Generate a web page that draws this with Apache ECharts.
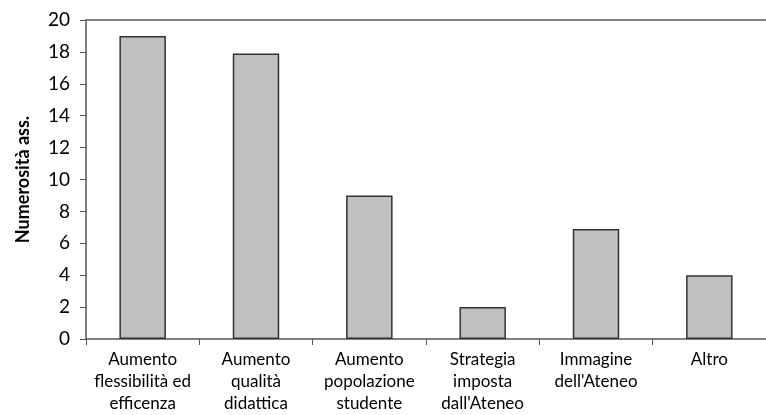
<!DOCTYPE html>
<html>
<head>
<meta charset="utf-8">
<script src="https://cdn.jsdelivr.net/npm/echarts@6/dist/echarts.min.js"></script>
<style>
  html, body { margin: 0; padding: 0; background: #fff; }
  #chart { width: 766px; height: 415px; }
</style>
</head>
<body>
<div id="chart"></div>
<script>
// Motivazioni: numerosità assoluta delle risposte
const categories = [
  "Aumento\nflessibilità ed\nefficenza",
  "Aumento\nqualità\ndidattica",
  "Aumento\npopolazione\nstudente",
  "Strategia\nimposta\ndall'Ateneo",
  "Immagine\ndell'Ateneo",
  "Altro"
];
const counts = [19, 17.9, 9, 2, 6.9, 4];
const yTicks = [0, 2, 4, 6, 8, 10, 12, 14, 16, 18, 20];

const fontFamily = "Lato, 'Open Sans', sans-serif";

const chart = echarts.init(document.getElementById('chart'), null, { renderer: 'canvas' });
chart.setOption({
  animation: false,
  grid: { left: 86, top: 20, width: 688, height: 321, containLabel: false },
  xAxis: [
    {
      type: 'category',
      data: categories,
      axisLine: { show: true, lineStyle: { color: '#555', width: 1.5 } },
      axisTick: { show: true, length: 6, lineStyle: { color: '#555' }, alignWithLabel: false },
      axisLabel: {
        interval: 0,
        color: '#000',
        fontFamily: fontFamily,
        fontSize: 17,
        lineHeight: 22,
        margin: 10
      },
      splitLine: { show: false }
    },
    {
      type: 'category',
      position: 'top',
      data: categories,
      axisLine: { show: true, lineStyle: { color: '#808080', width: 2 } },
      axisTick: { show: false },
      axisLabel: { show: false }
    }
  ],
  yAxis: {
    type: 'value',
    min: yTicks[0],
    max: yTicks[yTicks.length - 1],
    interval: 2,
    name: 'Numerosità ass.',
    nameLocation: 'middle',
    nameGap: 54,
    nameTextStyle: { color: '#000', fontFamily: fontFamily, fontSize: 18, fontWeight: 'bold' },
    axisLine: { show: true, lineStyle: { color: '#555', width: 1.5 } },
    axisTick: { show: true, length: 6, lineStyle: { color: '#555' } },
    axisLabel: { color: '#000', fontFamily: fontFamily, fontSize: 19, margin: 16 },
    splitLine: { show: false }
  },
  series: [{
    type: 'bar',
    data: counts,
    barWidth: '41%',
    itemStyle: { color: '#c0c0c0', borderColor: '#333', borderWidth: 1.5 }
  }]
});
</script>
</body>
</html>
